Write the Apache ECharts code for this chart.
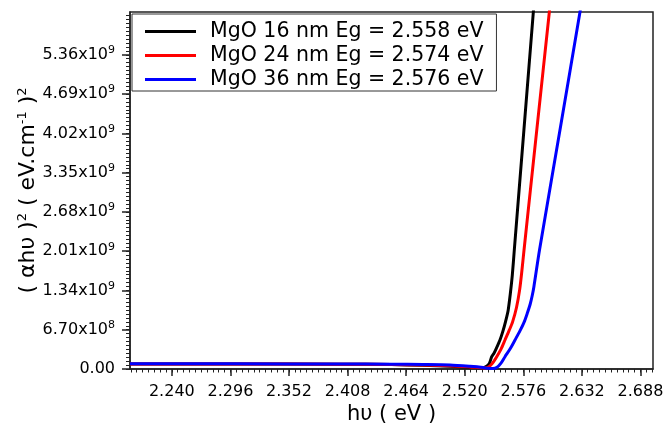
<!DOCTYPE html>
<html>
<head>
<meta charset="utf-8">
<script src="https://cdn.jsdelivr.net/npm/echarts@6/dist/echarts.min.js"></script>
<style>html,body{margin:0;padding:0;background:#fff}#c{width:666px;height:432px}</style>
</head>
<body>
<div id="c"></div>
<script>
// ---- data ----
const seriesNames = ['MgO 16 nm Eg = 2.558 eV', 'MgO 24 nm Eg = 2.574 eV', 'MgO 36 nm Eg = 2.576 eV'];
const seriesColors = ['#000000', '#ff0000', '#0000ff'];

const energy16 = [2.20, 2.30, 2.40, 2.45, 2.48, 2.506, 2.525, 2.5375, 2.5413, 2.5437, 2.5458, 2.5480, 2.5499, 2.5537, 2.5566, 2.5589, 2.5615, 2.5637, 2.5655, 2.5674, 2.5766, 2.5856, 2.5872];
const ahv16    = [0.085e9, 0.085e9, 0.082e9, 0.075e9, 0.062e9, 0.045e9, 0.030e9, 0.022e9, 0.05e9, 0.10e9, 0.21e9, 0.27e9, 0.34e9, 0.495e9, 0.65e9, 0.80e9, 1.0e9, 1.3e9, 1.6e9, 2.03e9, 4.08e9, 6.09e9, 6.45e9];

const energy24 = [2.20, 2.30, 2.40, 2.45, 2.48, 2.506, 2.525, 2.5394, 2.5432, 2.5466, 2.5506, 2.5547, 2.5585, 2.5623, 2.5657, 2.5695, 2.5725, 2.5745, 2.5767, 2.5889, 2.6009, 2.6030];
const ahv24    = [0.085e9, 0.085e9, 0.083e9, 0.078e9, 0.068e9, 0.055e9, 0.035e9, 0.017e9, 0.04e9, 0.10e9, 0.21e9, 0.34e9, 0.495e9, 0.65e9, 0.80e9, 1.05e9, 1.35e9, 1.65e9, 2.03e9, 4.08e9, 6.09e9, 6.45e9];

const energy36 = [2.20, 2.30, 2.40, 2.45, 2.48, 2.506, 2.525, 2.5375, 2.5423, 2.5470, 2.5509, 2.5547, 2.5585, 2.5633, 2.5681, 2.5728, 2.5768, 2.5798, 2.5825, 2.5845, 2.5861, 2.5915, 2.6111, 2.6302, 2.6326];
const ahv36    = [0.088e9, 0.088e9, 0.086e9, 0.083e9, 0.077e9, 0.068e9, 0.045e9, 0.025e9, 0.012e9, 0.008e9, 0.03e9, 0.10e9, 0.21e9, 0.34e9, 0.495e9, 0.65e9, 0.80e9, 0.95e9, 1.10e9, 1.25e9, 1.40e9, 2.03e9, 4.08e9, 6.09e9, 6.35e9];

const xTicks = [2.240, 2.296, 2.352, 2.408, 2.464, 2.520, 2.576, 2.632, 2.688];
const xTickLabels = ['2.240', '2.296', '2.352', '2.408', '2.464', '2.520', '2.576', '2.632', '2.688'];
const yTicks = [0, 0.67e9, 1.34e9, 2.01e9, 2.68e9, 3.35e9, 4.02e9, 4.69e9, 5.36e9];
const yTickMantissas = ['0.00', '6.70x10', '1.34x10', '2.01x10', '2.68x10', '3.35x10', '4.02x10', '4.69x10', '5.36x10'];
const yTickExponents = ['', '8', '9', '9', '9', '9', '9', '9', '9'];

const xMin = 2.2, xMax = 2.7, yMin = 0, yMax = 6.09e9;
const xMinorStep = 0.0056, yMinorStep = 0.067e9;

// minor tick positions (axis decoration only)
const xMinorTicks = [];
for (let v = 2.240; v > xMin; v -= xMinorStep) xMinorTicks.push(+v.toFixed(4));
for (let v = 2.240 + xMinorStep; v < xMax; v += xMinorStep) xMinorTicks.push(+v.toFixed(4));
const yMinorTicks = [];
for (let v = 0; v < yMax; v += yMinorStep) yMinorTicks.push(v);

const FONT = 'DejaVu Sans';
const chart = echarts.init(document.getElementById('c'), null, {renderer: 'canvas'});

const pairs = (xs, ys) => xs.map((x, i) => [x, ys[i]]);
const datasets = [pairs(energy16, ahv16), pairs(energy24, ahv24), pairs(energy36, ahv36)];

const option = {
  animation: false,
  backgroundColor: '#fff',
  grid: {left: 130, right: 13, top: 12, bottom: 63, outerBoundsMode: 'none', containLabel: false,
    show: true, borderColor: '#222', borderWidth: 1.5, backgroundColor: 'transparent'},
  legend: {
    orient: 'vertical', left: 132, top: 14,
    padding: [7, 13, 1, 13], itemGap: 3, itemWidth: 51, itemHeight: 3, icon: 'rect',
    backgroundColor: '#fff', borderColor: '#333', borderWidth: 1,
    textStyle: {fontFamily: FONT, fontSize: 20.5, color: '#000', padding: [0, 0, 0, 9]},
    data: seriesNames
  },
  xAxis: [{
    type: 'value', min: xMin, max: xMax, position: 'bottom',
    name: 'h\u03c5 ( eV )', nameLocation: 'middle', nameGap: 35, nameMoveOverlap: false,
    nameTextStyle: {fontFamily: FONT, fontSize: 21, color: '#000'},
    axisLine: {show: true, lineStyle: {color: '#222', width: 1.5}},
    splitLine: {show: false},
    axisTick: {show: true, length: 7, customValues: xTicks, lineStyle: {color: '#222', width: 1.5}},
    axisLabel: {show: true, customValues: xTicks, margin: 15, fontFamily: FONT, fontSize: 16, color: '#000',
      formatter: v => { const i = xTicks.findIndex(t => Math.abs(t - v) < 1e-6); return i >= 0 ? xTickLabels[i] : ''; }}
  }, {
    type: 'value', min: xMin, max: xMax, position: 'bottom',
    axisLine: {show: false}, splitLine: {show: false}, axisLabel: {show: false},
    axisTick: {show: true, length: 3.5, customValues: xMinorTicks, lineStyle: {color: '#222', width: 1}}
  }],
  yAxis: [{
    type: 'value', min: yMin, max: yMax, position: 'left',
    name: '( \u03b1h\u03c5 ){s|2} ( eV.cm{s|-1} ){s|2}', nameLocation: 'middle', nameGap: 90, nameMoveOverlap: false,
    nameTextStyle: {fontFamily: FONT, fontSize: 22, color: '#000',
      rich: {s: {fontFamily: FONT, fontSize: 13, color: '#000', verticalAlign: 'top', padding: [0, 0, 11, 0]}}},
    axisLine: {show: true, lineStyle: {color: '#222', width: 1.5}},
    splitLine: {show: false},
    axisTick: {show: true, length: 8, customValues: yTicks, lineStyle: {color: '#222', width: 1.5}},
    axisLabel: {show: true, customValues: yTicks, margin: 15, color: '#000',
      formatter: v => {
        const i = yTicks.findIndex(t => Math.abs(t - v) < 1e3);
        if (i < 0) return '';
        return '{m|' + yTickMantissas[i] + '}' + (yTickExponents[i] ? '{e|' + yTickExponents[i] + '}' : '');
      },
      rich: {
        m: {fontFamily: FONT, fontSize: 16, color: '#000'},
        e: {fontFamily: FONT, fontSize: 11, color: '#000', verticalAlign: 'top', padding: [0, 0, 9, 0]}
      }}
  }, {
    type: 'value', min: yMin, max: yMax, position: 'left',
    axisLine: {show: false}, splitLine: {show: false}, axisLabel: {show: false},
    axisTick: {show: true, length: 4, customValues: yMinorTicks, lineStyle: {color: '#222', width: 1}}
  }],
  series: seriesNames.map((n, k) => ({
    name: n, type: 'line', xAxisIndex: 0, yAxisIndex: 0,
    data: datasets[k], symbol: 'none', smooth: 0.25, clip: true,
    lineStyle: {color: seriesColors[k], width: 3}, itemStyle: {color: seriesColors[k]}
  }))
};
chart.setOption(option);
</script>
</body>
</html>
